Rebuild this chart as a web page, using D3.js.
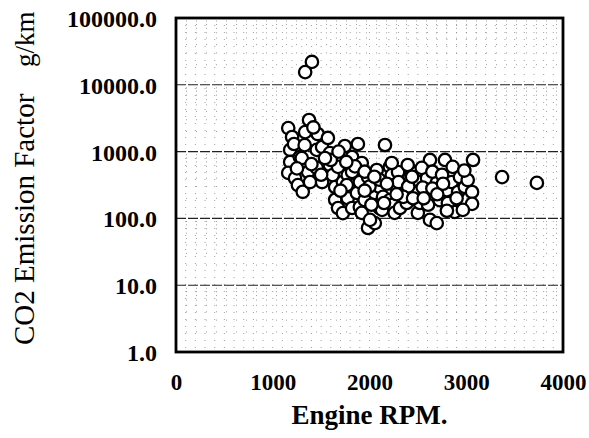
<!DOCTYPE html>
<html>
<head>
<meta charset="UTF-8">
<script src="https://cdn.jsdelivr.net/npm/d3@7"></script>
<style>
  body { margin: 0; background: #fff; }
  text { font-family: "Liberation Serif", "DejaVu Serif", serif; fill: #000; }
</style>
</head>
<body>
<div id="chart"></div>
<script>
// engine speed (rpm) and CO2 emission factor (g/km)
const rpm = [
  1160, 1200, 1180, 1180, 1160, 1230, 1280, 1260, 1310,
  1375, 1335, 1465, 1300, 1365, 1385, 1455, 1510, 1455,
  1570, 1590, 1590, 1620, 1510, 1645, 1645, 1675, 1675,
  1745, 1880, 1820, 1725, 1775, 1820, 1765, 1775, 1870, 1725, 1820, 1900,
  1920, 1985, 2075, 1900, 1920, 1950, 1985, 2055, 2005, 2055, 2105, 2105,
  2160, 2210, 2140, 2130, 2210, 2230, 2260, 2295, 2240, 2260, 2230, 2315,
  2395, 2345, 2415, 2385, 2490, 2470, 2500, 2520, 2520,
  2625, 2595, 2595, 2605, 2625, 2695, 2695, 2725, 2540,
  2780, 2860, 2800, 2850, 2880, 2810, 2935, 2915,
  3070, 2985, 3060, 3060, 2965, 3015,
  2000, 2100, 2300, 2400, 2350, 2450, 2150, 1950, 2550, 2650, 2700,
  1600, 1500, 1400, 1700, 1850, 1950, 2050, 2650, 2750, 2900, 2800,
  1220, 1250, 1330, 1420, 1540, 1680, 1760, 2020, 2180, 2280, 2440, 2560, 2760, 2980,
  1335, 1405, 3370, 3730
];
const co2 = [
  2250, 1650, 1060, 700, 480, 400, 830, 315, 250,
  2970, 1960, 1830, 800, 495, 350, 1060, 1170, 570,
  1600, 950, 630, 445, 350, 295, 190, 590, 143,
  1210, 1300, 830, 350, 445, 495, 315, 200, 240, 120, 143, 350,
  675, 415, 530, 148, 121, 188, 72, 85, 95, 240, 295, 143,
  1255, 590, 210, 134, 188, 445, 316, 495, 160, 121, 675, 143,
  630, 250, 415, 170, 480, 265, 121, 350, 170,
  750, 400, 248, 160, 95, 85, 340, 188, 570,
  750, 590, 265, 350, 125, 170, 415, 248,
  750, 295, 248, 165, 134, 375,
  300, 380, 350, 300, 210, 200, 170, 260, 290, 280, 230,
  750, 450, 650, 260, 600, 500, 420, 500, 450, 200, 130,
  1300, 560, 1250, 2300, 800, 1000, 700, 160, 330, 230, 420, 200, 330, 520,
  15500, 22000, 415, 340
];
const yTicks = [1, 10, 100, 1000, 10000, 100000];
const xTicks = [0, 1000, 2000, 3000, 4000];

const width = 589, height = 438;
const margin = {top: 18, right: 26, bottom: 86, left: 176};

const svg = d3.select("#chart").append("svg")
  .attr("width", width).attr("height", height);

const x = d3.scaleLinear().domain([0, 4000]).range([margin.left, width - margin.right]);
const y = d3.scaleLog().domain([1, 100000]).range([height - margin.bottom, margin.top]);

// minor grid (dotted)
const minorX = d3.range(100, 4000, 100);
svg.append("g").selectAll("line").data(minorX).enter().append("line")
  .attr("x1", d => x(d)).attr("x2", d => x(d))
  .attr("y1", y(100000)).attr("y2", y(1))
  .attr("stroke", "#888").attr("stroke-width", 0.8)
  .attr("stroke-dasharray", "1,6");

const minorY = [];
yTicks.slice(0, -1).forEach(t => { for (let k = 2; k < 10; k++) minorY.push(t * k); });
svg.append("g").selectAll("line").data(minorY).enter().append("line")
  .attr("x1", x(0)).attr("x2", x(4000))
  .attr("y1", d => y(d)).attr("y2", d => y(d))
  .attr("stroke", "#888").attr("stroke-width", 0.8)
  .attr("stroke-dasharray", "1,9");

// major grid
svg.append("g").selectAll("line").data(yTicks.slice(1, -1)).enter().append("line")
  .attr("x1", x(0)).attr("x2", x(4000))
  .attr("y1", d => y(d)).attr("y2", d => y(d))
  .attr("stroke", "#222").attr("stroke-width", 1.1)
  .attr("stroke-dasharray", "10,2");

// axes
const yAxis = svg.append("g")
  .attr("transform", "translate(" + (margin.left - 19) + ",0)")
  .call(d3.axisLeft(y).tickValues(yTicks).tickFormat(d3.format(".1f")).tickSize(0));
yAxis.select(".domain").remove();
yAxis.selectAll("text")
  .attr("x", 0).attr("dy", "0.35em")
  .style("font-family", "Liberation Serif, serif")
  .style("font-size", "24px").style("font-weight", "bold");

const xAxis = svg.append("g")
  .attr("transform", "translate(0," + (height - margin.bottom) + ")")
  .call(d3.axisBottom(x).tickValues(xTicks).tickFormat(d3.format("d")).tickSize(0));
xAxis.select(".domain").remove();
xAxis.selectAll("text")
  .attr("y", 22).attr("dy", "0.71em")
  .style("font-family", "Liberation Serif, serif")
  .style("font-size", "23px").style("font-weight", "bold");

// points
svg.append("g").selectAll("circle").data(rpm).enter().append("circle")
  .attr("cx", d => x(d))
  .attr("cy", (d, i) => y(co2[i]))
  .attr("r", 6.2)
  .attr("fill", "#fff")
  .attr("stroke", "#000")
  .attr("stroke-width", 2.3);

// frame
svg.append("rect")
  .attr("x", x(0)).attr("y", y(100000))
  .attr("width", x(4000) - x(0)).attr("height", y(1) - y(100000))
  .attr("fill", "none").attr("stroke", "#000").attr("stroke-width", 2.8);

// titles
svg.append("text")
  .attr("x", x(2000)).attr("y", 424)
  .attr("text-anchor", "middle")
  .style("font-size", "27px").style("font-weight", "bold")
  .text("Engine RPM.");

svg.append("text")
  .attr("transform", "translate(34,345) rotate(-90)")
  .style("font-size", "29px")
  .text("CO2 Emission Factor");

svg.append("text")
  .attr("transform", "translate(34,67) rotate(-90)")
  .style("font-size", "27px")
  .text("g/km");
</script>
</body>
</html>
